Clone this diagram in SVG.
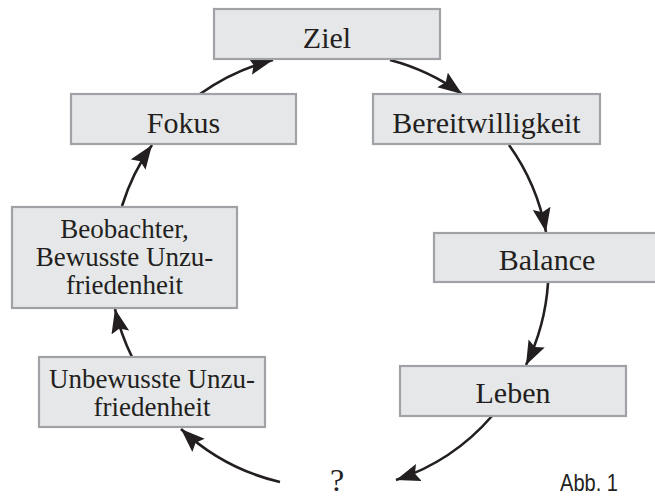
<svg xmlns="http://www.w3.org/2000/svg" width="655" height="500" viewBox="0 0 655 500">
<defs>
<marker id="ah" markerUnits="userSpaceOnUse" markerWidth="26" markerHeight="20" refX="24" refY="9" orient="auto">
<path d="M0,0 L24,9 L0,18 L4,9 Z" fill="#231f20"/>
</marker>
<style>
.box{fill:#e6e7e8;stroke:#a0a2a5;stroke-width:2.2}
.lbl{font-family:"Liberation Serif","Times New Roman",serif;fill:#231f20;text-anchor:middle}
.big{font-size:30px}
.sm{font-size:27px}
.edge{fill:none;stroke:#231f20;stroke-width:2.6;marker-end:url(#ah)}
</style>
</defs>
<rect width="655" height="500" fill="#ffffff"/>
<g id="connectors">
<path class="edge" d="M200,94 A217,217 0 0 1 273,60"/>
<path class="edge" d="M390,60 A217,217 0 0 1 462,94"/>
<path class="edge" d="M509,145 A217,217 0 0 1 546,232"/>
<path class="edge" d="M548,283 A217,217 0 0 1 526,365"/>
<path class="edge" d="M492,416 A217,217 0 0 1 396,480"/>
<path class="edge" d="M280,482 A217,217 0 0 1 181,429"/>
<path class="edge" d="M132,357 A217,217 0 0 1 115,309"/>
<path class="edge" d="M122,206 A217,217 0 0 1 152,145"/>
</g>
<g id="ziel"><rect class="box" x="214" y="9" width="226" height="50"/><text class="lbl big" x="327" y="48">Ziel</text></g>
<g id="fokus"><rect class="box" x="71" y="94" width="225" height="50"/><text class="lbl big" x="183.5" y="133">Fokus</text></g>
<g id="bereitwilligkeit"><rect class="box" x="373" y="94" width="227" height="50"/><text class="lbl big" x="486.5" y="133">Bereitwilligkeit</text></g>
<g id="balance"><rect class="box" x="434" y="233" width="226" height="49"/><text class="lbl big" x="547" y="270">Balance</text></g>
<g id="leben"><rect class="box" x="400" y="366" width="226" height="50"/><text class="lbl big" x="513" y="403">Leben</text></g>
<g id="beobachter"><rect class="box" x="12" y="207" width="225" height="101"/><text class="lbl sm" x="124.5" y="238">Beobachter,</text><text class="lbl sm" x="124.5" y="266">Bewusste Unzu-</text><text class="lbl sm" x="124.5" y="294">friedenheit</text></g>
<g id="unbewusste"><rect class="box" x="39" y="357" width="226" height="70"/><text class="lbl sm" x="152" y="388">Unbewusste Unzu-</text><text class="lbl sm" x="152" y="416">friedenheit</text></g>
<g id="frage"><text class="lbl" font-size="32" x="337" y="491">?</text></g>
<text x="560" y="491" font-family="'Liberation Sans',Arial,sans-serif" font-size="24" fill="#231f20" textLength="58" lengthAdjust="spacingAndGlyphs">Abb. 1</text>
</svg>
